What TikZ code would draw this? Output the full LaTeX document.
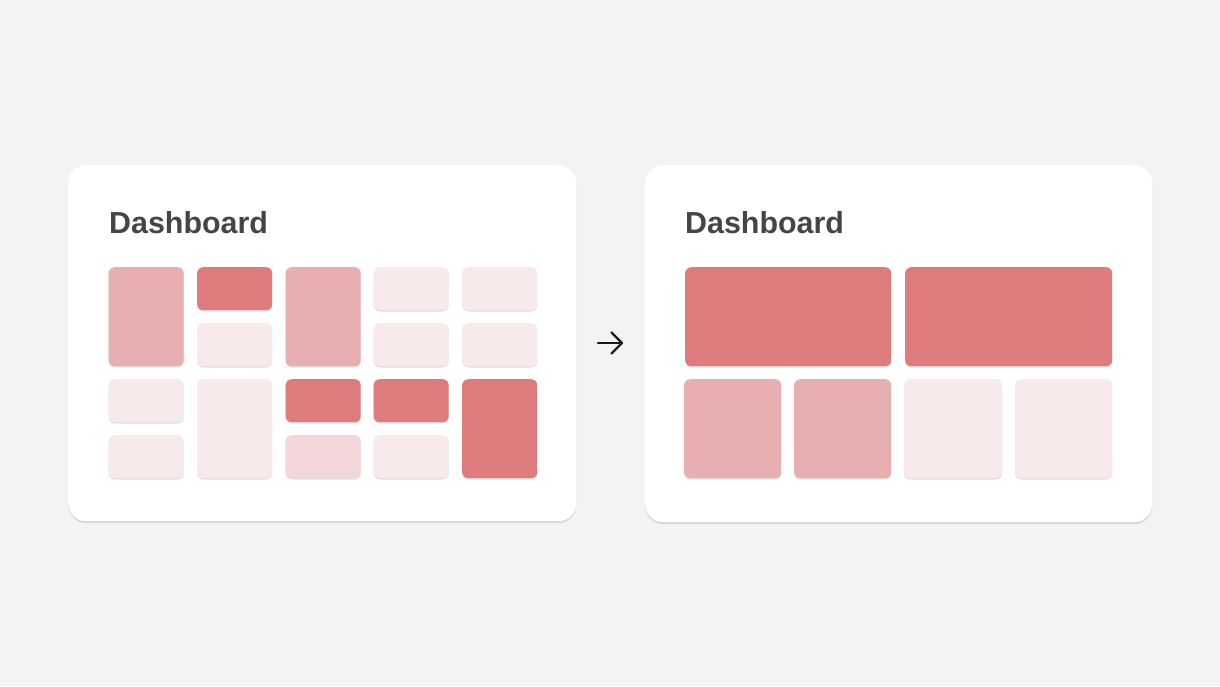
\documentclass[tikz,border=0pt]{standalone}
\usepackage{fontspec}
\setmainfont{Liberation Sans}
\usetikzlibrary{shadows}
\definecolor{bgc}{HTML}{F2F3F5}
\definecolor{darkc}{HTML}{DE7B7C}
\definecolor{medc}{HTML}{E8AFB0}
\definecolor{lightc}{HTML}{F8EAEB}
\definecolor{lmedc}{HTML}{F3D6D9}
\definecolor{titlec}{HTML}{454545}
\tikzset{
  card/.style={rectangle, rounded corners=18pt, fill=white, inner sep=0pt, anchor=north west,
    drop shadow={shadow xshift=0pt, shadow yshift=-2pt, opacity=0.16, fill=black!70}},
  tile/.style={rectangle, rounded corners=6pt, inner sep=0pt, anchor=north west,
    drop shadow={shadow xshift=0pt, shadow yshift=-1.3pt, opacity=0.2, fill=black!60}},
  small/.style={tile, minimum width=75pt, minimum height=43pt},
  tall/.style={tile, minimum width=75pt, minimum height=99pt},
  title/.style={anchor=base west, inner sep=0pt, text=titlec, font=\fontsize{30.4}{31}\selectfont\bfseries},
  arrowline/.style={draw=black!90, line width=2.4pt, line cap=round, line join=round}
}
\begin{document}
\begin{tikzpicture}[x=1pt,y=-1pt]
\fill[bgc] (0,0) rectangle (1220,686);
\useasboundingbox (0,0) rectangle (1220,686);
% cards
\node[card, minimum width=508pt, minimum height=356pt] (cardL) at (68,165) {};
\node[card, minimum width=507pt, minimum height=357pt] (cardR) at (645,165) {};
\node[title] (titleL) at (109,233) {Dashboard};
\node[title] (titleR) at (685,233) {Dashboard};
% left tiles: column 1
\node[tall, fill=medc] (l11) at (108.5,267) {};
\node[small, fill=lightc] (l13) at (108.5,379) {};
\node[small, fill=lightc] (l14) at (108.5,435) {};
% column 2
\node[small, fill=darkc] (l21) at (197,267) {};
\node[small, fill=lightc] (l22) at (197,323) {};
\node[tall, fill=lightc] (l23) at (197,379) {};
% column 3
\node[tall, fill=medc] (l31) at (285.5,267) {};
\node[small, fill=darkc] (l33) at (285.5,379) {};
\node[small, fill=lmedc] (l34) at (285.5,435) {};
% column 4
\node[small, fill=lightc] (l41) at (373.5,267) {};
\node[small, fill=lightc] (l42) at (373.5,323) {};
\node[small, fill=darkc] (l43) at (373.5,379) {};
\node[small, fill=lightc] (l44) at (373.5,435) {};
% column 5
\node[small, fill=lightc] (l51) at (462,267) {};
\node[small, fill=lightc] (l52) at (462,323) {};
\node[tall, fill=darkc] (l53) at (462,379) {};
% right tiles
\node[tile, fill=darkc, minimum width=206pt, minimum height=99pt] (r1) at (685,267) {};
\node[tile, fill=darkc, minimum width=207pt, minimum height=99pt] (r2) at (905,267) {};
\node[tile, fill=medc, minimum width=97pt, minimum height=99pt] (r3) at (684,379) {};
\node[tile, fill=medc, minimum width=97pt, minimum height=99pt] (r4) at (794,379) {};
\node[tile, fill=lightc, minimum width=98pt, minimum height=99pt] (r5) at (904,379) {};
\node[tile, fill=lightc, minimum width=97pt, minimum height=99pt] (r6) at (1015,379) {};
% arrow
\coordinate (aL) at (598,343);
\coordinate (aR) at (622,343);
\draw[arrowline] (aL) -- (aR);
\draw[arrowline] (aR) ++(-10.5,-10.5) -- (aR) -- ++(-10.5,10.5);
\end{tikzpicture}
\end{document}
